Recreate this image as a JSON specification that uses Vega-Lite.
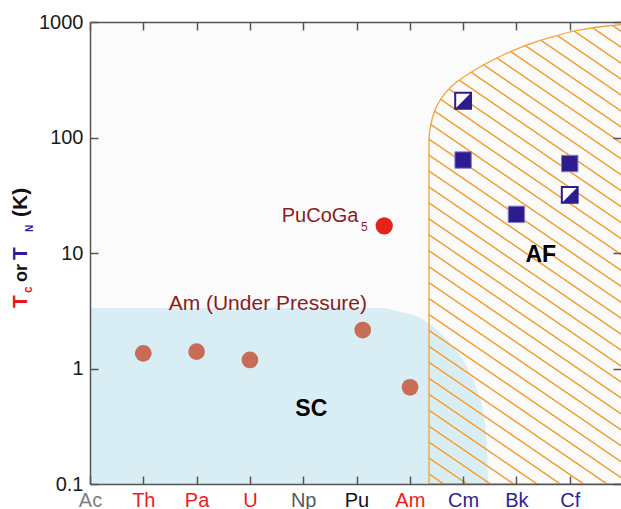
{
  "$schema": "https://vega.github.io/schema/vega-lite/v6.json",
  "width": 531,
  "height": 462,
  "autosize": {"type": "none"},
  "padding": {"left": 90, "top": 22, "right": 0, "bottom": 25},
  "background": "white",
  "config": {"view": {"fill": "#fbfbfb", "stroke": null}, "font": "Liberation Sans"},
  "datasets": {
    "sc": [
      {"x": 0, "v": 3.34}, {"x": 5.44, "v": 3.34}, {"x": 5.82, "v": 3.1}, {"x": 6.19, "v": 2.74},
      {"x": 6.51, "v": 2.15}, {"x": 6.81, "v": 1.545}, {"x": 7.07, "v": 1.037}, {"x": 7.26, "v": 0.652},
      {"x": 7.38, "v": 0.412}, {"x": 7.44, "v": 0.24}, {"x": 7.47, "v": 0.1}
    ],
    "af": [
      {"v": 0.1, "x": 6.36}, {"v": 95, "x": 6.36}, {"v": 133, "x": 6.4}, {"v": 185, "x": 6.5},
      {"v": 241, "x": 6.66}, {"v": 295, "x": 6.85}, {"v": 348, "x": 7.07}, {"v": 424, "x": 7.38},
      {"v": 518, "x": 7.75}, {"v": 632, "x": 8.19}, {"v": 746, "x": 8.69}, {"v": 853, "x": 9.19},
      {"v": 923, "x": 9.69}, {"v": 950, "x": 9.962}
    ]
  },
  "resolve": {"axis": {"x": "independent", "y": "independent"}},
  "layer": [
    {
      "data": {"name": "sc"},
      "mark": {"type": "area", "color": "#d8eef4", "interpolate": "monotone"},
      "encoding": {
        "x": {"field": "x", "type": "quantitative", "scale": {"domain": [0, 9.962], "nice": false, "zero": false},
          "axis": {"orient": "bottom", "values": [0, 1, 2, 3, 4, 5, 6, 7, 8, 9], "title": null, "grid": false, "zindex": 1,
            "labelExpr": "['Ac','Th','Pa','U','Np','Pu','Am','Cm','Bk','Cf'][datum.value]",
            "labelFontSize": 20, "labelPadding": 14, "labelFlush": false, "labelOverlap": false, "labelBound": false,
            "labelColor": {"condition": [
              {"test": "datum.value == 0", "value": "#808080"},
              {"test": "datum.value == 4", "value": "#595959"},
              {"test": "datum.value == 5", "value": "#111111"},
              {"test": "datum.value >= 7", "value": "#2e2394"}
            ], "value": "#ee1c1c"},
            "tickSize": -8, "tickWidth": 1.5, "tickColor": "#555555", "domainColor": "#555555", "domainWidth": 1.5}},
        "y": {"field": "v", "type": "quantitative", "scale": {"type": "log", "domain": [0.1, 1000], "nice": false},
          "axis": {"orient": "left", "values": [0.1, 1, 10, 100, 1000], "title": null, "grid": false, "zindex": 1,
            "labelExpr": "datum.value < 1 ? '0.1' : format(datum.value, 'd')",
            "labelFontSize": 20, "labelPadding": 15, "labelColor": "#1a1a1a", "labelFlush": false, "labelOverlap": false, "labelBound": false,
            "tickSize": -8, "tickWidth": 1.5, "tickColor": "#555555", "domainColor": "#555555", "domainWidth": 1.5}},
        "y2": {"datum": 0.1}
      }
    },
    {
      "data": {"name": "af"},
      "mark": {"type": "area", "orient": "horizontal", "interpolate": "monotone", "stroke": "#f5a23a", "strokeWidth": 1.3,
        "fill": {"gradient": "linear", "x1": 0, "y1": 1, "x2": 0.36349, "y2": -0.19384, "stops": [
          {"offset": 0, "color": "rgba(245,162,58,0)"},
          {"offset": 0.0147, "color": "rgba(245,162,58,0)"}, {"offset": 0.0158, "color": "#f5a23a"}, {"offset": 0.0178, "color": "#f5a23a"}, {"offset": 0.0189, "color": "rgba(245,162,58,0)"},
          {"offset": 0.0413, "color": "rgba(245,162,58,0)"}, {"offset": 0.0424, "color": "#f5a23a"}, {"offset": 0.0444, "color": "#f5a23a"}, {"offset": 0.0455, "color": "rgba(245,162,58,0)"},
          {"offset": 0.0679, "color": "rgba(245,162,58,0)"}, {"offset": 0.0690, "color": "#f5a23a"}, {"offset": 0.0710, "color": "#f5a23a"}, {"offset": 0.0721, "color": "rgba(245,162,58,0)"},
          {"offset": 0.0945, "color": "rgba(245,162,58,0)"}, {"offset": 0.0956, "color": "#f5a23a"}, {"offset": 0.0976, "color": "#f5a23a"}, {"offset": 0.0987, "color": "rgba(245,162,58,0)"},
          {"offset": 0.1211, "color": "rgba(245,162,58,0)"}, {"offset": 0.1222, "color": "#f5a23a"}, {"offset": 0.1242, "color": "#f5a23a"}, {"offset": 0.1253, "color": "rgba(245,162,58,0)"},
          {"offset": 0.1477, "color": "rgba(245,162,58,0)"}, {"offset": 0.1488, "color": "#f5a23a"}, {"offset": 0.1508, "color": "#f5a23a"}, {"offset": 0.1519, "color": "rgba(245,162,58,0)"},
          {"offset": 0.1743, "color": "rgba(245,162,58,0)"}, {"offset": 0.1754, "color": "#f5a23a"}, {"offset": 0.1774, "color": "#f5a23a"}, {"offset": 0.1785, "color": "rgba(245,162,58,0)"},
          {"offset": 0.2009, "color": "rgba(245,162,58,0)"}, {"offset": 0.2020, "color": "#f5a23a"}, {"offset": 0.2040, "color": "#f5a23a"}, {"offset": 0.2051, "color": "rgba(245,162,58,0)"},
          {"offset": 0.2275, "color": "rgba(245,162,58,0)"}, {"offset": 0.2286, "color": "#f5a23a"}, {"offset": 0.2306, "color": "#f5a23a"}, {"offset": 0.2317, "color": "rgba(245,162,58,0)"},
          {"offset": 0.2541, "color": "rgba(245,162,58,0)"}, {"offset": 0.2552, "color": "#f5a23a"}, {"offset": 0.2572, "color": "#f5a23a"}, {"offset": 0.2583, "color": "rgba(245,162,58,0)"},
          {"offset": 0.2807, "color": "rgba(245,162,58,0)"}, {"offset": 0.2818, "color": "#f5a23a"}, {"offset": 0.2838, "color": "#f5a23a"}, {"offset": 0.2849, "color": "rgba(245,162,58,0)"},
          {"offset": 0.3073, "color": "rgba(245,162,58,0)"}, {"offset": 0.3084, "color": "#f5a23a"}, {"offset": 0.3104, "color": "#f5a23a"}, {"offset": 0.3115, "color": "rgba(245,162,58,0)"},
          {"offset": 0.3339, "color": "rgba(245,162,58,0)"}, {"offset": 0.3350, "color": "#f5a23a"}, {"offset": 0.3370, "color": "#f5a23a"}, {"offset": 0.3381, "color": "rgba(245,162,58,0)"},
          {"offset": 0.3605, "color": "rgba(245,162,58,0)"}, {"offset": 0.3616, "color": "#f5a23a"}, {"offset": 0.3636, "color": "#f5a23a"}, {"offset": 0.3647, "color": "rgba(245,162,58,0)"},
          {"offset": 0.3871, "color": "rgba(245,162,58,0)"}, {"offset": 0.3882, "color": "#f5a23a"}, {"offset": 0.3902, "color": "#f5a23a"}, {"offset": 0.3913, "color": "rgba(245,162,58,0)"},
          {"offset": 0.4137, "color": "rgba(245,162,58,0)"}, {"offset": 0.4148, "color": "#f5a23a"}, {"offset": 0.4168, "color": "#f5a23a"}, {"offset": 0.4179, "color": "rgba(245,162,58,0)"},
          {"offset": 0.4403, "color": "rgba(245,162,58,0)"}, {"offset": 0.4414, "color": "#f5a23a"}, {"offset": 0.4434, "color": "#f5a23a"}, {"offset": 0.4445, "color": "rgba(245,162,58,0)"},
          {"offset": 0.4669, "color": "rgba(245,162,58,0)"}, {"offset": 0.4680, "color": "#f5a23a"}, {"offset": 0.4700, "color": "#f5a23a"}, {"offset": 0.4711, "color": "rgba(245,162,58,0)"},
          {"offset": 0.4935, "color": "rgba(245,162,58,0)"}, {"offset": 0.4946, "color": "#f5a23a"}, {"offset": 0.4966, "color": "#f5a23a"}, {"offset": 0.4977, "color": "rgba(245,162,58,0)"},
          {"offset": 0.5201, "color": "rgba(245,162,58,0)"}, {"offset": 0.5212, "color": "#f5a23a"}, {"offset": 0.5232, "color": "#f5a23a"}, {"offset": 0.5243, "color": "rgba(245,162,58,0)"},
          {"offset": 0.5467, "color": "rgba(245,162,58,0)"}, {"offset": 0.5478, "color": "#f5a23a"}, {"offset": 0.5498, "color": "#f5a23a"}, {"offset": 0.5509, "color": "rgba(245,162,58,0)"},
          {"offset": 0.5733, "color": "rgba(245,162,58,0)"}, {"offset": 0.5744, "color": "#f5a23a"}, {"offset": 0.5764, "color": "#f5a23a"}, {"offset": 0.5775, "color": "rgba(245,162,58,0)"},
          {"offset": 0.5999, "color": "rgba(245,162,58,0)"}, {"offset": 0.6010, "color": "#f5a23a"}, {"offset": 0.6030, "color": "#f5a23a"}, {"offset": 0.6041, "color": "rgba(245,162,58,0)"},
          {"offset": 0.6265, "color": "rgba(245,162,58,0)"}, {"offset": 0.6276, "color": "#f5a23a"}, {"offset": 0.6296, "color": "#f5a23a"}, {"offset": 0.6307, "color": "rgba(245,162,58,0)"},
          {"offset": 0.6531, "color": "rgba(245,162,58,0)"}, {"offset": 0.6542, "color": "#f5a23a"}, {"offset": 0.6562, "color": "#f5a23a"}, {"offset": 0.6573, "color": "rgba(245,162,58,0)"},
          {"offset": 0.6797, "color": "rgba(245,162,58,0)"}, {"offset": 0.6808, "color": "#f5a23a"}, {"offset": 0.6828, "color": "#f5a23a"}, {"offset": 0.6839, "color": "rgba(245,162,58,0)"},
          {"offset": 0.7063, "color": "rgba(245,162,58,0)"}, {"offset": 0.7074, "color": "#f5a23a"}, {"offset": 0.7094, "color": "#f5a23a"}, {"offset": 0.7105, "color": "rgba(245,162,58,0)"},
          {"offset": 0.7329, "color": "rgba(245,162,58,0)"}, {"offset": 0.7340, "color": "#f5a23a"}, {"offset": 0.7360, "color": "#f5a23a"}, {"offset": 0.7371, "color": "rgba(245,162,58,0)"},
          {"offset": 0.7595, "color": "rgba(245,162,58,0)"}, {"offset": 0.7606, "color": "#f5a23a"}, {"offset": 0.7626, "color": "#f5a23a"}, {"offset": 0.7637, "color": "rgba(245,162,58,0)"},
          {"offset": 0.7861, "color": "rgba(245,162,58,0)"}, {"offset": 0.7872, "color": "#f5a23a"}, {"offset": 0.7892, "color": "#f5a23a"}, {"offset": 0.7903, "color": "rgba(245,162,58,0)"},
          {"offset": 0.8127, "color": "rgba(245,162,58,0)"}, {"offset": 0.8138, "color": "#f5a23a"}, {"offset": 0.8158, "color": "#f5a23a"}, {"offset": 0.8169, "color": "rgba(245,162,58,0)"},
          {"offset": 0.8393, "color": "rgba(245,162,58,0)"}, {"offset": 0.8404, "color": "#f5a23a"}, {"offset": 0.8424, "color": "#f5a23a"}, {"offset": 0.8435, "color": "rgba(245,162,58,0)"},
          {"offset": 0.8659, "color": "rgba(245,162,58,0)"}, {"offset": 0.8670, "color": "#f5a23a"}, {"offset": 0.8690, "color": "#f5a23a"}, {"offset": 0.8701, "color": "rgba(245,162,58,0)"},
          {"offset": 0.8925, "color": "rgba(245,162,58,0)"}, {"offset": 0.8936, "color": "#f5a23a"}, {"offset": 0.8956, "color": "#f5a23a"}, {"offset": 0.8967, "color": "rgba(245,162,58,0)"},
          {"offset": 0.9191, "color": "rgba(245,162,58,0)"}, {"offset": 0.9202, "color": "#f5a23a"}, {"offset": 0.9222, "color": "#f5a23a"}, {"offset": 0.9233, "color": "rgba(245,162,58,0)"},
          {"offset": 0.9457, "color": "rgba(245,162,58,0)"}, {"offset": 0.9468, "color": "#f5a23a"}, {"offset": 0.9488, "color": "#f5a23a"}, {"offset": 0.9499, "color": "rgba(245,162,58,0)"},
          {"offset": 0.9723, "color": "rgba(245,162,58,0)"}, {"offset": 0.9734, "color": "#f5a23a"}, {"offset": 0.9754, "color": "#f5a23a"}, {"offset": 0.9765, "color": "rgba(245,162,58,0)"},
          {"offset": 1, "color": "rgba(245,162,58,0)"}
        ]}},
      "encoding": {
        "y": {"field": "v", "type": "quantitative", "scale": {"type": "log", "domain": [0.1, 1000], "nice": false},
          "axis": {"orient": "right", "values": [0.1, 1, 10, 100, 1000], "title": null, "grid": false, "labels": false, "domain": false, "zindex": 1,
            "tickSize": -8, "tickWidth": 1.5, "tickColor": "#555555"}},
        "x": {"field": "x", "type": "quantitative", "scale": {"domain": [0, 9.962], "nice": false, "zero": false},
          "axis": {"orient": "top", "values": [0, 1, 2, 3, 4, 5, 6, 7, 8, 9], "title": null, "grid": false, "labels": false, "zindex": 1,
            "tickSize": -8, "tickWidth": 1.5, "tickColor": "#555555", "domainColor": "#555555", "domainWidth": 1.5}},
        "x2": {"datum": 10.2}
      }
    },
    {
      "data": {"values": [{"x": 1, "v": 1.354}, {"x": 2, "v": 1.398}, {"x": 3, "v": 1.185}, {"x": 5.116, "v": 2.154}, {"x": 6.004, "v": 0.688}]},
      "mark": {"type": "point", "shape": "circle", "filled": true, "size": 280, "color": "#c96c57", "opacity": 1},
      "encoding": {
        "x": {"field": "x", "type": "quantitative", "scale": {"domain": [0, 9.962], "nice": false, "zero": false}, "axis": null},
        "y": {"field": "v", "type": "quantitative", "scale": {"type": "log", "domain": [0.1, 1000], "nice": false}, "axis": null}
      }
    },
    {
      "data": {"values": [{"x": 5.52, "v": 17.2}]},
      "mark": {"type": "point", "shape": "circle", "filled": true, "size": 300, "color": "#e5231b", "opacity": 1},
      "encoding": {
        "x": {"field": "x", "type": "quantitative", "scale": {"domain": [0, 9.962], "nice": false, "zero": false}, "axis": null},
        "y": {"field": "v", "type": "quantitative", "scale": {"type": "log", "domain": [0.1, 1000], "nice": false}, "axis": null}
      }
    },
    {
      "data": {"values": [{"x": 7, "v": 63.8}, {"x": 8, "v": 21.6}, {"x": 9, "v": 59.5}]},
      "mark": {"type": "point", "shape": "square", "filled": true, "size": 270, "fill": "#2d1c8f", "stroke": "#8a80c8", "strokeWidth": 1, "opacity": 1},
      "encoding": {
        "x": {"field": "x", "type": "quantitative", "scale": {"domain": [0, 9.962], "nice": false, "zero": false}, "axis": null},
        "y": {"field": "v", "type": "quantitative", "scale": {"type": "log", "domain": [0.1, 1000], "nice": false}, "axis": null}
      }
    },
    {
      "data": {"values": [{"x": 7, "v": 208}, {"x": 9, "v": 31.8}]},
      "mark": {"type": "point", "shape": "square", "filled": true, "size": 250, "fill": "white", "stroke": "#2d1c8f", "strokeWidth": 2, "opacity": 1},
      "encoding": {
        "x": {"field": "x", "type": "quantitative", "scale": {"domain": [0, 9.962], "nice": false, "zero": false}, "axis": null},
        "y": {"field": "v", "type": "quantitative", "scale": {"type": "log", "domain": [0.1, 1000], "nice": false}, "axis": null}
      }
    },
    {
      "data": {"values": [{"x": 7, "v": 208}, {"x": 9, "v": 31.8}]},
      "mark": {"type": "point", "shape": "M 1 -1 L 1 1 L -1 1 Z", "filled": true, "size": 250, "fill": "#2d1c8f", "opacity": 1},
      "encoding": {
        "x": {"field": "x", "type": "quantitative", "scale": {"domain": [0, 9.962], "nice": false, "zero": false}, "axis": null},
        "y": {"field": "v", "type": "quantitative", "scale": {"type": "log", "domain": [0.1, 1000], "nice": false}, "axis": null}
      }
    },
    {
      "data": {"values": [{"x": 3.597, "v": 18.67, "t": "PuCoGa"}]},
      "mark": {"type": "text", "align": "left", "baseline": "alphabetic", "fontSize": 20, "color": "#8b1c1c"},
      "encoding": {
        "x": {"field": "x", "type": "quantitative", "scale": {"domain": [0, 9.962], "nice": false, "zero": false}, "axis": null},
        "y": {"field": "v", "type": "quantitative", "scale": {"type": "log", "domain": [0.1, 1000], "nice": false}, "axis": null},
        "text": {"field": "t"}
      }
    },
    {
      "data": {"values": [{"x": 3.336, "v": 3.18, "t": "Am (Under Pressure)"}]},
      "mark": {"type": "text", "align": "center", "baseline": "alphabetic", "fontSize": 21, "color": "#8b1c1c"},
      "encoding": {
        "x": {"field": "x", "type": "quantitative", "scale": {"domain": [0, 9.962], "nice": false, "zero": false}, "axis": null},
        "y": {"field": "v", "type": "quantitative", "scale": {"type": "log", "domain": [0.1, 1000], "nice": false}, "axis": null},
        "text": {"field": "t"}
      }
    },
    {
      "data": {"values": [{"x": 5.084, "v": 15.66, "t": "5"}]},
      "mark": {"type": "text", "align": "left", "baseline": "alphabetic", "fontSize": 12, "color": "#8b1c1c"},
      "encoding": {
        "x": {"field": "x", "type": "quantitative", "scale": {"domain": [0, 9.962], "nice": false, "zero": false}, "axis": null},
        "y": {"field": "v", "type": "quantitative", "scale": {"type": "log", "domain": [0.1, 1000], "nice": false}, "axis": null},
        "text": {"field": "t"}
      }
    },
    {
      "data": {"values": [{"x": 4.151, "v": 0.388, "t": "SC"}, {"x": 8.457, "v": 8.41, "t": "AF"}]},
      "mark": {"type": "text", "align": "center", "baseline": "alphabetic", "fontSize": 23, "fontWeight": "bold", "color": "#000000"},
      "encoding": {
        "x": {"field": "x", "type": "quantitative", "scale": {"domain": [0, 9.962], "nice": false, "zero": false}, "axis": null},
        "y": {"field": "v", "type": "quantitative", "scale": {"type": "log", "domain": [0.1, 1000], "nice": false}, "axis": null},
        "text": {"field": "t"}
      }
    },
    {
      "data": {"values": [{"x": -1.182, "v": 3.341, "t": "T"}]},
      "mark": {"type": "text", "angle": 270, "align": "left", "baseline": "alphabetic", "fontSize": 21, "fontWeight": "bold", "color": "#e8161a"},
      "encoding": {
        "x": {"field": "x", "type": "quantitative", "scale": {"domain": [0, 9.962], "nice": false, "zero": false}, "axis": null},
        "y": {"field": "v", "type": "quantitative", "scale": {"type": "log", "domain": [0.1, 1000], "nice": false}, "axis": null},
        "text": {"field": "t"}
      }
    },
    {
      "data": {"values": [{"x": -1.079, "v": 4.506, "t": "c"}]},
      "mark": {"type": "text", "angle": 270, "align": "left", "baseline": "alphabetic", "fontSize": 12, "fontWeight": "bold", "color": "#e8161a"},
      "encoding": {
        "x": {"field": "x", "type": "quantitative", "scale": {"domain": [0, 9.962], "nice": false, "zero": false}, "axis": null},
        "y": {"field": "v", "type": "quantitative", "scale": {"type": "log", "domain": [0.1, 1000], "nice": false}, "axis": null},
        "text": {"field": "t"}
      }
    },
    {
      "data": {"values": [{"x": -1.182, "v": 5.609, "t": "or"}]},
      "mark": {"type": "text", "angle": 270, "align": "left", "baseline": "alphabetic", "fontSize": 18, "fontWeight": "bold", "color": "#111111"},
      "encoding": {
        "x": {"field": "x", "type": "quantitative", "scale": {"domain": [0, 9.962], "nice": false, "zero": false}, "axis": null},
        "y": {"field": "v", "type": "quantitative", "scale": {"type": "log", "domain": [0.1, 1000], "nice": false}, "axis": null},
        "text": {"field": "t"}
      }
    },
    {
      "data": {"values": [{"x": -1.182, "v": 20.49, "t": "(K)"}]},
      "mark": {"type": "text", "angle": 270, "align": "left", "baseline": "alphabetic", "fontSize": 21, "fontWeight": "bold", "color": "#111111"},
      "encoding": {
        "x": {"field": "x", "type": "quantitative", "scale": {"domain": [0, 9.962], "nice": false, "zero": false}, "axis": null},
        "y": {"field": "v", "type": "quantitative", "scale": {"type": "log", "domain": [0.1, 1000], "nice": false}, "axis": null},
        "text": {"field": "t"}
      }
    },
    {
      "data": {"values": [{"x": -1.182, "v": 8.697, "t": "T"}]},
      "mark": {"type": "text", "angle": 270, "align": "left", "baseline": "alphabetic", "fontSize": 21, "fontWeight": "bold", "color": "#2a1aa0"},
      "encoding": {
        "x": {"field": "x", "type": "quantitative", "scale": {"domain": [0, 9.962], "nice": false, "zero": false}, "axis": null},
        "y": {"field": "v", "type": "quantitative", "scale": {"type": "log", "domain": [0.1, 1000], "nice": false}, "axis": null},
        "text": {"field": "t"}
      }
    },
    {
      "data": {"values": [{"x": -1.069, "v": 15.2, "t": "N"}]},
      "mark": {"type": "text", "angle": 270, "align": "left", "baseline": "alphabetic", "fontSize": 10, "fontWeight": "bold", "color": "#2a1aa0"},
      "encoding": {
        "x": {"field": "x", "type": "quantitative", "scale": {"domain": [0, 9.962], "nice": false, "zero": false}, "axis": null},
        "y": {"field": "v", "type": "quantitative", "scale": {"type": "log", "domain": [0.1, 1000], "nice": false}, "axis": null},
        "text": {"field": "t"}
      }
    }
  ]
}
